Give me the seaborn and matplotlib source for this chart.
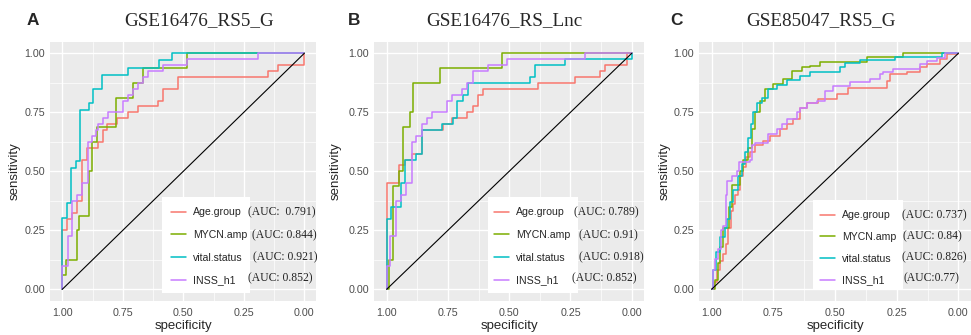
import matplotlib
matplotlib.use('Agg')
import matplotlib.pyplot as plt
from matplotlib.lines import Line2D
from matplotlib.patches import Rectangle
import pandas as pd
import seaborn as sns

# Titulos y etiquetas
panel_letters = ['A', 'B', 'C']
panel_titles = ['GSE16476_RS5_G', 'GSE16476_RS_Lnc', 'GSE85047_RS5_G']
curve_names = ['Age.group', 'MYCN.amp', 'vital.status', 'INSS_h1']
auc_labels = [
    ['(AUC:  0.791)', '(AUC: 0.844)', '(AUC: 0.921)', '(AUC: 0.852)'],
    ['(AUC: 0.789)', '(AUC: 0.91)', '(AUC: 0.918)', '(AUC: 0.852)'],
    ['(AUC: 0.737)', '(AUC: 0.84)', '(AUC: 0.826)', '(AUC:0.77)'],
]
palette = ['#F8766D', '#7CAE00', '#00BFC4', '#C77CFF']
tick_vals = [1.0, 0.75, 0.5, 0.25, 0.0]

# Panel A - GSE16476_RS5_G
a_age_spec = [1.0, 1.0, 0.982, 0.961, 0.941, 0.920, 0.897, 0.851, 0.831, 0.814, 0.775,
              0.727, 0.686, 0.603, 0.583, 0.521, 0.149, 0.107, 0.0]
a_age_sens = [0.0, 0.25, 0.30, 0.325, 0.375, 0.55, 0.60, 0.625, 0.675, 0.70, 0.725,
              0.75, 0.775, 0.80, 0.85, 0.90, 0.925, 0.95, 1.0]
a_mycn_spec = [1.0, 1.0, 0.986, 0.941, 0.931, 0.890, 0.876, 0.858, 0.778, 0.709, 0.668, 0.483, 0.0]
a_mycn_sens = [0.0, 0.0625, 0.125, 0.25, 0.3125, 0.5, 0.625, 0.6875, 0.8125, 0.875, 0.9375, 1.0, 1.0]
a_vital_spec = [1.0, 1.0, 0.982, 0.964, 0.944, 0.927, 0.890, 0.875, 0.837, 0.727, 0.600, 0.545, 0.0]
a_vital_sens = [0.0, 0.303, 0.364, 0.515, 0.545, 0.758, 0.788, 0.848, 0.909, 0.939, 0.970, 1.0, 1.0]
a_inss_spec = [1.0, 1.0, 0.978, 0.959, 0.938, 0.917, 0.894, 0.879, 0.861, 0.851, 0.831,
               0.81, 0.748, 0.727, 0.709, 0.686, 0.668, 0.645, 0.583, 0.486, 0.19, 0.0]
a_inss_sens = [0.0, 0.10, 0.225, 0.375, 0.40, 0.45, 0.625, 0.65, 0.675, 0.70, 0.725,
               0.75, 0.80, 0.825, 0.85, 0.875, 0.90, 0.925, 0.95, 0.975, 1.0, 1.0]

# Panel B - GSE16476_RS_Lnc
b_age_spec = [1.0, 1.0, 0.948, 0.925, 0.898, 0.857, 0.769, 0.735, 0.671, 0.649, 0.629,
              0.605, 0.381, 0.231, 0.129, 0.109, 0.020, 0.0]
b_age_sens = [0.0, 0.45, 0.525, 0.55, 0.575, 0.675, 0.70, 0.725, 0.75, 0.775, 0.825,
              0.85, 0.875, 0.90, 0.925, 0.95, 1.0, 1.0]
b_mycn_spec = [1.0, 0.989, 0.976, 0.948, 0.935, 0.905, 0.891, 0.782, 0.531, 0.0]
b_mycn_sens = [0.0, 0.125, 0.4375, 0.5, 0.6875, 0.75, 0.875, 0.9375, 1.0, 1.0]
b_vital_spec = [1.0, 1.0, 0.982, 0.941, 0.925, 0.880, 0.857, 0.776, 0.731, 0.712, 0.690,
                0.667, 0.415, 0.395, 0.272, 0.0]
b_vital_sens = [0.0, 0.30, 0.35, 0.45, 0.55, 0.575, 0.675, 0.70, 0.725, 0.80, 0.825,
                0.875, 0.90, 0.95, 0.975, 1.0]
b_inss_spec = [1.0, 1.0, 0.986, 0.962, 0.943, 0.921, 0.898, 0.880, 0.857, 0.837, 0.814,
               0.755, 0.735, 0.694, 0.671, 0.649, 0.585, 0.507, 0.19, 0.0]
b_inss_sens = [0.0, 0.10, 0.225, 0.375, 0.40, 0.45, 0.625, 0.65, 0.70, 0.725, 0.75,
               0.80, 0.825, 0.85, 0.875, 0.925, 0.95, 0.975, 1.0, 1.0]

# Panel C - GSE85047_RS5_G
c_age_spec = [1.0, 0.991, 0.980, 0.966, 0.953, 0.942, 0.932, 0.923, 0.912, 0.905, 0.892,
              0.885, 0.874, 0.861, 0.845, 0.824, 0.791, 0.764, 0.723, 0.696, 0.669, 0.642,
              0.615, 0.568, 0.493, 0.446, 0.291, 0.277, 0.209, 0.155, 0.128, 0.074, 0.047, 0.0]
c_age_sens = [0.0, 0.03, 0.08, 0.12, 0.15, 0.19, 0.26, 0.33, 0.36, 0.40, 0.42,
              0.48, 0.52, 0.56, 0.58, 0.61, 0.63, 0.65, 0.678, 0.70, 0.72, 0.77,
              0.79, 0.805, 0.827, 0.855, 0.884, 0.912, 0.919, 0.94, 0.955, 0.976, 0.997, 1.0]
c_mycn_spec = [1.0, 0.986, 0.973, 0.966, 0.953, 0.928, 0.919, 0.885, 0.872, 0.851, 0.838,
               0.824, 0.804, 0.784, 0.750, 0.709, 0.676, 0.635, 0.601, 0.561, 0.372, 0.223, 0.0]
c_mycn_sens = [0.0, 0.04, 0.11, 0.18, 0.26, 0.35, 0.44, 0.50, 0.55, 0.60, 0.68,
               0.75, 0.80, 0.85, 0.87, 0.89, 0.926, 0.94, 0.948, 0.962, 0.983, 1.0, 1.0]
c_vital_spec = [1.0, 0.996, 0.982, 0.966, 0.946, 0.936, 0.926, 0.912, 0.892, 0.878, 0.865,
                0.851, 0.842, 0.831, 0.815, 0.797, 0.770, 0.736, 0.696, 0.642, 0.601, 0.480,
                0.459, 0.399, 0.257, 0.068, 0.0]
c_vital_sens = [0.0, 0.08, 0.16, 0.22, 0.26, 0.30, 0.37, 0.42, 0.48, 0.53, 0.58,
                0.64, 0.70, 0.75, 0.79, 0.81, 0.85, 0.865, 0.885, 0.905, 0.92, 0.94,
                0.96, 0.97, 0.983, 1.0, 1.0]
c_inss_spec = [1.0, 0.996, 0.986, 0.973, 0.962, 0.953, 0.942, 0.936, 0.919, 0.899, 0.889,
               0.845, 0.838, 0.824, 0.770, 0.736, 0.716, 0.696, 0.655, 0.642, 0.615, 0.574,
               0.541, 0.507, 0.439, 0.358, 0.318, 0.304, 0.264, 0.155, 0.128, 0.088, 0.054, 0.0]
c_inss_sens = [0.0, 0.08, 0.13, 0.17, 0.25, 0.27, 0.40, 0.46, 0.48, 0.50, 0.54,
               0.55, 0.61, 0.62, 0.66, 0.68, 0.70, 0.72, 0.75, 0.77, 0.79, 0.80,
               0.84, 0.862, 0.877, 0.89, 0.912, 0.92, 0.933, 0.955, 0.969, 0.98, 1.0, 1.0]

curves = {
    'A': [(a_age_spec, a_age_sens), (a_mycn_spec, a_mycn_sens),
          (a_vital_spec, a_vital_sens), (a_inss_spec, a_inss_sens)],
    'B': [(b_age_spec, b_age_sens), (b_mycn_spec, b_mycn_sens),
          (b_vital_spec, b_vital_sens), (b_inss_spec, b_inss_sens)],
    'C': [(c_age_spec, c_age_sens), (c_mycn_spec, c_mycn_sens),
          (c_vital_spec, c_vital_sens), (c_inss_spec, c_inss_sens)],
}

rows = []
for p, lst in curves.items():
    for name, (sp, se) in zip(curve_names, lst):
        for x, y in zip(sp, se):
            rows.append({'panel': p, 'curve': name, 'specificity': x, 'sensitivity': y})
df = pd.DataFrame(rows)

# Estilo tipo ggplot
sns.set_theme(style='darkgrid')
plt.rcParams['font.family'] = ['Liberation Sans', 'DejaVu Sans']
plt.rcParams['axes.facecolor'] = '#EBEBEB'

W, H = 971, 335
fig = plt.figure(figsize=(W / 100, H / 100), dpi=100)
fig.patch.set_facecolor('white')

def fx(x):
    return x / W

def fy(y):
    return 1 - y / H

# posiciones en pixeles
axes_px = [(50.2, 316.4), (374.4, 644.0), (699.3, 970.7)]
ax_top, ax_bot = 41.5, 301.1
title_x = [199, 504, 821]
letter_x = [27, 348, 670]
ylab_x = [15, 336, 665]
box_px = [(162, 250, 197, 293), (488, 578, 197, 293), (813, 903, 200, 289)]
leg_anchor = [(171, 212), (494, 212), (820, 215)]
leg_space = [1.2, 1.2, 1.11]
auc_x = [[248, 252, 253, 248], [574, 579, 579, 572], [902, 903, 902, 903]]
auc_y = [[212, 235, 257, 278], [212, 235, 257, 278], [215, 236, 257, 278]]

for i, p in enumerate(panel_letters):
    l, r = axes_px[i]
    ax = fig.add_axes([fx(l), fy(ax_bot), (r - l) / W, (ax_bot - ax_top) / H])
    sub = df[df['panel'] == p]
    sns.lineplot(data=sub, x='specificity', y='sensitivity', hue='curve',
                 hue_order=curve_names, palette=palette, sort=False, estimator=None,
                 drawstyle='steps-post', linewidth=1.1, legend=False, ax=ax)
    ax.plot([1, 0], [0, 1], color='black', lw=0.8, zorder=3)

    ax.set_xlim(1.05, -0.05)
    ax.set_ylim(-0.05, 1.05)
    ax.set_xticks(tick_vals)
    ax.set_xticklabels(['%.2f' % v for v in tick_vals])
    ax.set_yticks(tick_vals)
    ax.set_yticklabels(['%.2f' % v for v in tick_vals])
    ax.set_xticks([0.875, 0.625, 0.375, 0.125], minor=True)
    ax.set_yticks([0.875, 0.625, 0.375, 0.125], minor=True)
    ax.grid(which='major', color='white', lw=1.0)
    ax.grid(which='minor', color='white', lw=0.5)
    ax.set_axisbelow(True)
    for s in ax.spines.values():
        s.set_visible(False)
    ax.tick_params(which='major', length=2.5, width=0.8, color='#333333',
                   labelcolor='#4D4D4D', labelsize=7.7)
    ax.tick_params(axis='x', which='major', pad=2.2)
    ax.tick_params(axis='y', which='major', pad=1.2)
    ax.tick_params(which='minor', length=0)
    ax.set_xlabel('')
    ax.set_ylabel('')

    # caja blanca de la leyenda
    bx0, bx1, by0, by1 = box_px[i]
    ax.add_patch(Rectangle((fx(bx0), fy(by1)), (bx1 - bx0) / W, (by1 - by0) / H,
                           transform=fig.transFigure, facecolor='white',
                           edgecolor='none', zorder=4, clip_on=False))
    handles = [Line2D([], [], color=c, lw=1.1) for c in palette]
    lx, ly = leg_anchor[i]
    leg = ax.legend(handles, curve_names, loc='upper left',
                    bbox_to_anchor=(fx(lx), fy(ly - 4.6)), bbox_transform=fig.transFigure,
                    frameon=False, borderpad=0, borderaxespad=0, handlelength=1.45,
                    handletextpad=0.65, labelspacing=leg_space[i], fontsize=7.6)
    leg.set_zorder(5)

    for k in range(4):
        fig.text(fx(auc_x[i][k]), fy(auc_y[i][k]), auc_labels[i][k], ha='left', va='center',
                 family=['Liberation Serif', 'DejaVu Serif'], fontsize=8.4, color='#222222')

    fig.text(fx(title_x[i]), fy(25), panel_titles[i], ha='center', va='baseline',
             family=['Liberation Serif', 'DejaVu Serif'], fontsize=13.8)
    fig.text(fx(letter_x[i]), fy(25), p, ha='left', va='baseline',
             fontsize=12.4, fontweight='bold')
    fig.text(fx(ylab_x[i]), fy(171), 'sensitivity', rotation=90, ha='center',
             va='center', fontsize=9.5)
    fig.text(fx((l + r) / 2), fy(326), 'specificity', ha='center', va='center',
             fontsize=9.5)

fig.savefig('out.png', dpi=100)
